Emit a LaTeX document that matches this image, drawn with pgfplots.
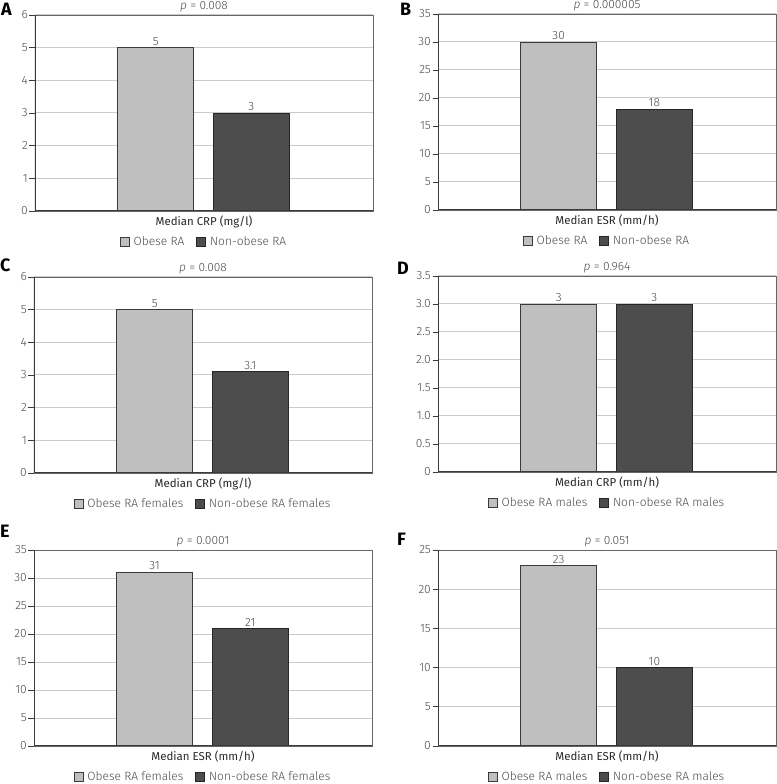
\documentclass[border=0pt]{standalone}
\usepackage{fontspec}
\setmainfont{Fira Sans}
\newfontfamily\lightfont{Fira Sans Light}
\usepackage{pgfplots}
\pgfplotsset{compat=1.18}
\definecolor{lightbar}{HTML}{BFBFBF}
\definecolor{darkbar}{HTML}{4D4D4D}
\definecolor{gridc}{HTML}{CBCBCB}
\definecolor{framec}{HTML}{666666}
\definecolor{axisc}{HTML}{3A3A3A}
\definecolor{txt}{HTML}{4A4A4A}
\pgfplotsset{
  panel/.style={
    scale only axis, width=338bp, height=196bp,
    xmin=0, xmax=1, ymin=0,
    xtick=\empty, ytick pos=left,
    axis line style={draw=framec, line width=0.9bp},
    ymajorgrids, grid style={draw=gridc, line width=1bp},
    tick align=outside, major tick length=5.5bp,
    ytick style={draw=axisc, line width=0.8bp},
    /pgf/number format/assume math mode=true,
    yticklabel style={font=\lightfont\fontsize{12}{13}\selectfont, text=txt, inner sep=1.5bp},
    ybar, bar width=0.226, bar shift=0pt,
    nodes near coords,
    nodes near coords style={font=\lightfont\fontsize{12}{13}\selectfont, text=txt, inner sep=2bp},
    title style={at={(axis description cs:0.5,1)}, anchor=base, yshift=-0.5bp, font=\lightfont\fontsize{12}{13}\selectfont, text=txt},
    xlabel style={at={(axis description cs:0.5,0)}, anchor=north, yshift=-1bp, font=\fontsize{11.5}{12}\selectfont, text=black!85},
    legend style={at={(axis description cs:0.5,0)}, anchor=center, yshift=-31bp, draw=none, fill=none,
      font=\lightfont\fontsize{12}{13}\selectfont, text=txt, legend columns=2,
      /tikz/every even column/.append style={column sep=10bp}},
    legend image code/.code={\draw[#1, line width=0.8bp] (0bp,-4.5bp) rectangle (9bp,4.5bp); \path (11bp,0bp);},
    legend cell align=left,
  },
  obese/.style={fill=lightbar, draw=axisc, line width=0.8bp},
  nonobese/.style={fill=darkbar, draw=black!85, line width=0.8bp},
}
\newcommand{\darkaxes}{\draw[axisc, line width=1.2bp] (rel axis cs:0,1) -- (rel axis cs:0,0) -- (rel axis cs:1,0);}
\begin{document}
\begin{tikzpicture}
\useasboundingbox (0,0) rectangle (777bp,784bp);
% Panel A
\begin{axis}[panel, at={(35bp,573bp)}, anchor=south west, ymax=6, ytick={0,1,...,6},
  title={{\itshape p} = 0.008}, xlabel={Median CRP (mg/l)}]
\addplot[obese] coordinates {(0.357,5)};
\addlegendentry{Obese RA}
\addplot[nonobese] coordinates {(0.640,3)};
\addlegendentry{Non-obese RA}
\darkaxes
\end{axis}
% Panel B
\begin{axis}[panel, at={(438bp,574bp)}, anchor=south west, ymax=35, ytick={0,5,...,35},
  title={{\itshape p} = 0.000005}, xlabel={Median ESR (mm/h)}]
\addplot[obese] coordinates {(0.357,30)};
\addlegendentry{Obese RA}
\addplot[nonobese] coordinates {(0.640,18)};
\addlegendentry{Non-obese RA}
\darkaxes
\end{axis}
% Panel C
\begin{axis}[panel, at={(34bp,311bp)}, anchor=south west, ymax=6, ytick={0,1,...,6},
  title={{\itshape p} = 0.008}, xlabel={Median CRP (mg/l)}]
\addplot[obese] coordinates {(0.357,5)};
\addlegendentry{Obese RA females}
\addplot[nonobese] coordinates {(0.640,3.1)};
\addlegendentry{Non-obese RA females}
\darkaxes
\end{axis}
% Panel D
\begin{axis}[panel, at={(438bp,312bp)}, anchor=south west, ymax=3.5, ytick={0,0.5,...,3.5},
  yticklabels={0,0.5,1.0,1.5,2.0,2.5,3.0,3.5},
  title={{\itshape p} = 0.964}, xlabel={Median CRP (mm/h)}]
\addplot[obese] coordinates {(0.357,3)};
\addlegendentry{Obese RA males}
\addplot[nonobese] coordinates {(0.640,3)};
\addlegendentry{Non-obese RA males}
\darkaxes
\end{axis}
% Panel E
\begin{axis}[panel, at={(34bp,38bp)}, anchor=south west, ymax=35, ytick={0,5,...,35},
  title={{\itshape p} = 0.0001}, xlabel={Median ESR (mm/h)}]
\addplot[obese] coordinates {(0.357,31)};
\addlegendentry{Obese RA females}
\addplot[nonobese] coordinates {(0.640,21)};
\addlegendentry{Non-obese RA females}
\darkaxes
\end{axis}
% Panel F
\begin{axis}[panel, at={(438bp,38bp)}, anchor=south west, ymax=25, ytick={0,5,...,25},
  title={{\itshape p} = 0.051}, xlabel={Median ESR (mm/h)}]
\addplot[obese] coordinates {(0.357,23)};
\addlegendentry{Obese RA males}
\addplot[nonobese] coordinates {(0.640,10)};
\addlegendentry{Non-obese RA males}
\darkaxes
\end{axis}
% panel letters
\begin{scope}[every node/.style={font=\bfseries\fontsize{18}{18}\selectfont, anchor=north west, inner sep=0pt}]
\node at (1bp,781bp) {A};
\node at (400bp,781bp) {B};
\node at (0bp,525bp) {C};
\node at (397bp,522bp) {D};
\node at (0bp,259bp) {E};
\node at (397bp,251bp) {F};
\end{scope}
\end{tikzpicture}
\end{document}
